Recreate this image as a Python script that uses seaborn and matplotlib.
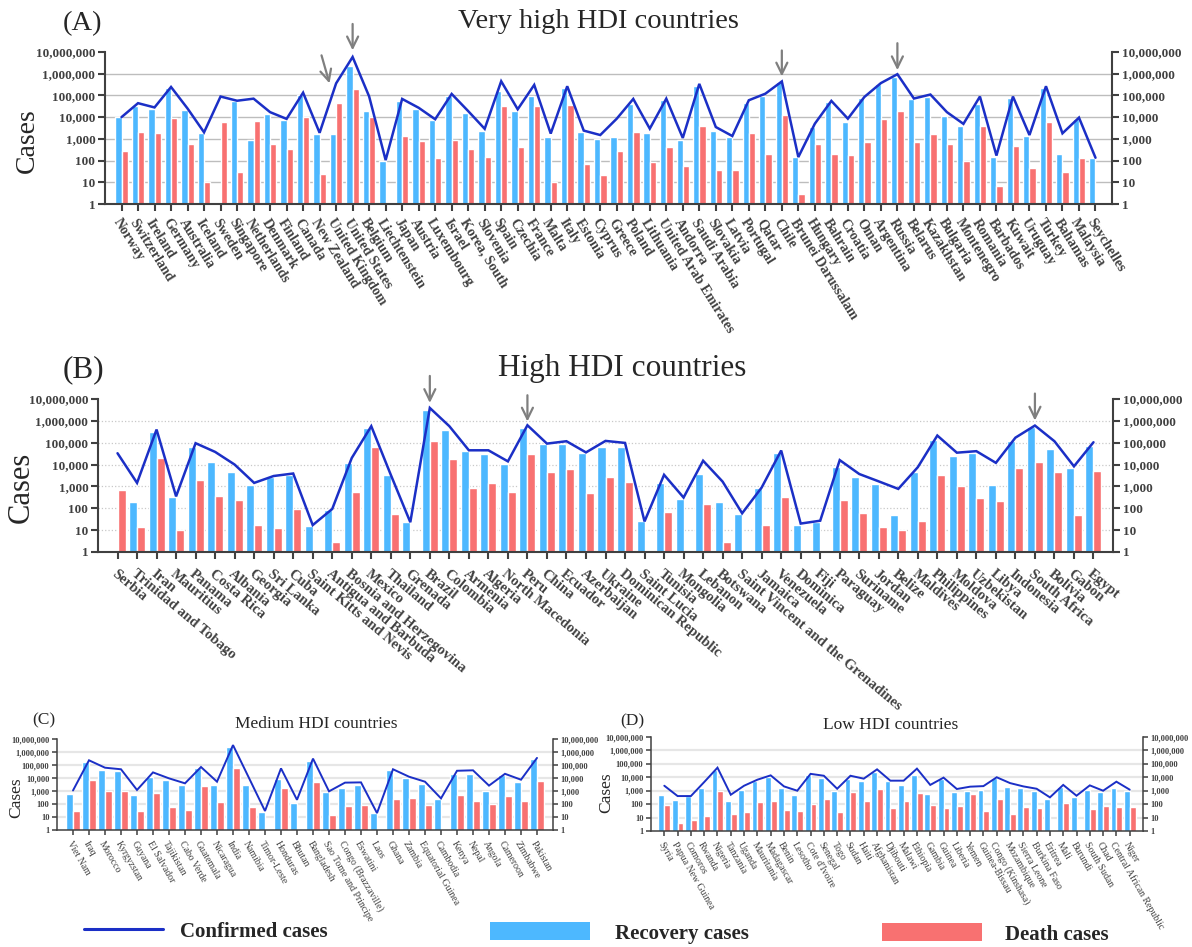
import numpy as np
import pandas as pd
import matplotlib
matplotlib.use("Agg")
import matplotlib.pyplot as plt
import seaborn as sns
from matplotlib.lines import Line2D
from matplotlib.patches import Patch
from matplotlib.ticker import FuncFormatter, NullLocator

nan = np.nan

# ─── DATA ────────────────────────────────────────────────────────────────────
VH_COUNTRIES = ["Norway", "Switzerland", "Ireland", "Germany", "Australia", "Iceland", "Sweden",
                "Singapore", "Netherlands", "Denmark", "Finland", "Canada", "New Zealand",
                "United Kingdom", "United States", "Belgium", "Liechtenstein", "Japan", "Austria",
                "Luxembourg", "Israel", "Korea, South", "Slovenia", "Spain", "Czechia", "France",
                "Malta", "Italy", "Estonia", "Cyprus", "Greece", "Poland", "Lithuania",
                "United Arab Emirates", "Andorra", "Saudi Arabia", "Slovakia", "Latvia", "Portugal",
                "Qatar", "Chile", "Brunei Darussalam", "Hungary", "Bahrain", "Croatia", "Oman",
                "Argentina", "Russia", "Belarus", "Kazakhstan", "Bulgaria", "Montenegro", "Romania",
                "Barbados", "Kuwait", "Uruguay", "Turkey", "Bahamas", "Malaysia", "Seychelles"]
VH_CONFIRMED = [10000, 44000, 28000, 245000, 25000, 2000, 89000, 57000, 71000, 17000, 8300, 134000,
                1900, 360000, 5900000, 90000, 105, 69000, 27000, 8000, 117000, 19000, 2900, 450000,
                23000, 305000, 1750, 265000, 2400, 1500, 8500, 69000, 2950, 71000, 1100, 340000,
                3500, 1350, 60000, 120000, 440000, 145, 5000, 56000, 8500, 85000, 370000, 950000,
                72000, 110000, 17000, 4900, 89000, 170, 89000, 1500, 265000, 1800, 9500, 135]
VH_RECOVERED = [9900, 31000, 23700, 215000, 21000, 1900, nan, 54000, 850, 14500, 7200, 110000,
                1600, 1600, 2200000, 18600, 100, 54000, 23000, 7200, 95000, 15000, 2200, 155000,
                18500, 95000, 1200, 215000, 2000, 960, 1270, 41000, 1800, 60000, 850, 285000,
                2200, 1200, 44000, 95000, 410000, 140, 3600, 48000, 6200, 80000, 320000, 710000,
                68000, 88000, 11000, 3800, 39000, 140, 74000, 1300, 230000, 210, 8600, 125]
VH_DEATHS = [270, 2000, 1800, 9300, 600, 10, 5800, 29, 6500, 600, 330, 9800,
             23, 44000, 190000, 9900, nan, 1300, 770, 125, 850, 330, 140, 32000,
             400, 32000, 10, 35000, 70, 21, 270, 2000, 83, 400, 55, 3800,
             36, 36, 1800, 195, 12000, 3, 600, 195, 175, 690, 8000, 18600,
             690, 1600, 600, 93, 3800, 7, 490, 44, 6200, 29, 125, nan]

H_COUNTRIES = ["Serbia", "Trinidad and Tobago", "Iran", "Mauritius", "Panama", "Costa Rica",
               "Albania", "Georgia", "Sri Lanka", "Cuba", "Saint Kitts and Nevis",
               "Antigua and Barbuda", "Bosnia and Herzegovina", "Mexico", "Thailand", "Grenada",
               "Brazil", "Colombia", "Armenia", "Algeria", "North Macedonia", "Peru", "China",
               "Ecuador", "Azerbaijan", "Ukraine", "Dominican Republic", "Saint Lucia", "Tunisia",
               "Mongolia", "Lebanon", "Botswana", "Saint Vincent and the Grenadines", "Jamaica",
               "Venezuela", "Dominica", "Fiji", "Paraguay", "Suriname", "Jordan", "Belize",
               "Maldives", "Philippines", "Moldova", "Uzbekistan", "Libya", "Indonesia",
               "South Africa", "Bolivia", "Gabon", "Egypt"]
H_CONFIRMED = [33000, 1450, 400000, 350, 95000, 38000, 10000, 1450, 3000, 3900, 17, 93, 20000,
               570000, 3400, 23, 3900000, 570000, 45000, 45000, 14000, 630000, 91000, 117000,
               36000, 121000, 98000, 25, 3400, 310, 15000, 1660, 59, 890, 44000, 20, 27, 16000,
               3700, 1700, 770, 7600, 213000, 35000, 41000, 12000, 170000, 610000, 117000, 8300,
               105000]
H_RECOVERED = [nan, 200, 325000, 340, 66000, 13700, 4800, 1200, 2800, 3300, 16, 87, 12300,
               495000, 3400, 24, 3300000, 400000, 40000, 32000, 11000, 460000, 83000, 91000,
               34000, 62000, 66000, 25, 1500, 275, 3900, 200, 57, 890, 34000, 18, 23, 8100,
               2800, 1350, 51, 4800, 140000, 26000, 34000, 1200, 125000, 530000, 54000, 7300,
               69000]
H_DEATHS = [720, 14, 21000, 10, 2050, 380, 250, 18, 12, 96, nan, 3, 580,
            66000, 57, nan, 126000, 18700, 890, 1500, 580, 29000, 4700, 6600,
            520, 2600, 1660, nan, 70, nan, 150, 3, nan, 18, 340, nan, nan, 250,
            63, 14, 10, 27, 3500, 1000, 310, 225, 7300, 13700, 4800, 51,
            5300]

M_COUNTRIES = ["Viet Nam", "Iraq", "Morocco", "Kyrgyzstan", "Guyana", "El Salvador", "Tajikistan",
               "Cabo Verde", "Guatemala", "Nicaragua", "India", "Namibia", "Timor-Leste",
               "Honduras", "Bhutan", "Bangladesh", "Sao Tome and Principe", "Congo (Brazzaville)",
               "Eswatini", "Laos", "Ghana", "Zambia", "Equatorial Guinea", "Cambodia", "Kenya",
               "Nepal", "Angola", "Cameroon", "Zimbabwe", "Pakistan"]
M_CONFIRMED = [1100, 230000, 62000, 47000, 1200, 27000, 9400, 3900, 70000, 5200, 3400000, 10000,
               29, 55000, 210, 310000, 940, 4400, 4600, 20, 47000, 12600, 5200, 270, 36000,
               39000, 2600, 21000, 7400, 350000]
M_RECOVERED = [590, 170000, 44000, 37000, 520, 12000, 7400, 3000, 58000, 3000, 2400000, 3000,
               26, 8900, 125, 200000, 890, 1800, 3000, 21, 44000, 10600, 3700, 260, 21000,
               21000, 1070, 17000, 5200, 310000]
M_DEATHS = [31, 7400, 1070, 1070, 31, 740, 62, 36, 2600, 150, 62000, 62,
            nan, 1800, nan, 4700, 15, 74, 89, nan, 260, 310, 89, nan, 520,
            180, 105, 440, 180, 6200]

L_COUNTRIES = ["Syria", "Papua New Guinea", "Comoros", "Rwanda", "Nigeria", "Tanzania", "Uganda",
               "Mauritania", "Madagascar", "Benin", "Lesotho", "Cote d'Ivoire", "Senegal", "Togo",
               "Sudan", "Haiti", "Afghanistan", "Djibouti", "Malawi", "Ethiopia", "Gambia",
               "Guinea", "Liberia", "Yemen", "Guinea-Bissau", "Congo (Kinshasa)", "Mozambique",
               "Sierra Leone", "Burkina Faso", "Eritrea", "Mali", "Burundi", "South Sudan", "Chad",
               "Central African Republic", "Niger"]
L_CONFIRMED = [2350, 400, 400, 4400, 52000, 500, 2350, 6600, 13900, 2100, 1000, 18000, 13000,
               1400, 13000, 7900, 39000, 5600, 5600, 44000, 2700, 9400, 1340, 2000, 2200, 10000,
               3700, 2100, 1400, 320, 2700, 425, 2500, 1000, 4700, 1200]
L_RECOVERED = [500, 215, 380, 1700, 37000, 180, 1200, 5600, 10500, 1700, 500, 15600, 8900,
               1000, 7400, 5600, 26000, 5400, 2800, 15000, 600, 7400, 850, 1000, 1200, 9400,
               2000, 1700, 1000, 255, 1900, 360, 1200, 850, 1700, 1000]
L_DEATHS = [92, 4.2, 6.6, 14, 1000, 19, 27, 150, 180, 39, 32, 107, 255,
            27, 850, 180, 1400, 55, 180, 720, 92, 55, 77, 600, 32, 255,
            19, 65, 55, nan, 130, nan, 46, 77, 65, 65]

# ─── STYLE ───────────────────────────────────────────────────────────────────
BLUE = "#4db8ff"
RED = "#f87171"
LINE = "#1b2fc6"
AXIS_GREY = "#404040"
ARROW_GREY = "#7f7f7f"
W, H = 1192, 947
DECADES = [1, 10, 100, 1000, 10000, 100000, 1000000, 10000000]

sns.set_style("white")
plt.rcParams["font.family"] = ["Liberation Serif", "DejaVu Serif"]


def fx(px):
    return px / W


def fy(py):
    return 1 - py / H


def draw_panel(fig, box, names, conf, rec, dead, st):
    left, top, right, bottom = box
    ax = fig.add_axes([fx(left), fy(bottom), (right - left) / W, (bottom - top) / H])
    n = len(names)
    df = pd.DataFrame({
        "country": names * 2,
        "kind": ["Recovery cases"] * n + ["Death cases"] * n,
        "cases": list(rec) + list(dead),
    })
    sns.barplot(data=df, x="country", y="cases", hue="kind", order=names,
                hue_order=["Recovery cases", "Death cases"], palette=[BLUE, RED],
                width=st["bar_width"], saturation=1, errorbar=None, log_scale=True,
                legend=False, ax=ax, zorder=2)
    ax.plot(np.arange(n), conf, color=LINE, lw=st["line_lw"], zorder=4,
            solid_joinstyle="miter")

    ax.set_yscale("log")
    ax.set_ylim(1, 1e7)
    ax.set_xlim(-1, n)
    ax.set_xlabel("")
    ax.set_ylabel("")

    for v in DECADES[1:-1]:
        ax.axhline(v, color=st["grid_color"], ls=st["grid_ls"], lw=st["grid_lw"], zorder=0)

    ax.set_yticks(DECADES)
    ax.yaxis.set_minor_locator(NullLocator())
    ax.yaxis.set_major_formatter(FuncFormatter(lambda v, _: f"{int(round(v)):,}"))
    ax.tick_params(axis="y", which="major", left=True, right=True, labelleft=True,
                   labelright=True, direction="out", length=st["tick_len"],
                   width=st["spine_lw"], color=AXIS_GREY, labelcolor=AXIS_GREY,
                   labelsize=st["ytick_size"], pad=2)
    for t in ax.yaxis.get_major_ticks():
        t.label1.set_fontweight("bold")
        t.label2.set_fontweight("bold")

    ax.set_xticks(np.arange(n))
    ax.set_xticklabels(names, rotation=st["rot"], ha="left", va="top",
                       rotation_mode="anchor", fontsize=st["xtick_size"],
                       fontweight=st["xtick_weight"], color=AXIS_GREY)
    ax.tick_params(axis="x", bottom=True, direction="out", length=st["tick_len"],
                   width=st["spine_lw"], color=AXIS_GREY, pad=st["xpad"])

    ax.spines["top"].set_visible(False)
    for s in ["left", "right", "bottom"]:
        ax.spines[s].set_color(AXIS_GREY)
        ax.spines[s].set_linewidth(st["spine_lw"])

    for name, dx, off, shrink in st.get("arrows", []):
        i = names.index(name)
        ax.annotate("", xy=(i + dx, conf[i]), xytext=off, textcoords="offset pixels",
                    arrowprops=dict(arrowstyle="->,head_length=0.45,head_width=0.22",
                                    color=ARROW_GREY, lw=1.6, shrinkA=0, shrinkB=shrink,
                                    mutation_scale=18))
    return ax


fig = plt.figure(figsize=(W / 100, H / 100), dpi=100)

big = dict(grid_color="#bdbdbd", grid_ls="-", grid_lw=1.0, line_lw=1.8, spine_lw=1.5,
           tick_len=5, ytick_size=9.5, xtick_weight="bold", xpad=4)
small = dict(grid_color="#e6e6e6", grid_ls="-", grid_lw=1.6, line_lw=1.4, spine_lw=1.1,
             tick_len=3.5, ytick_size=6, xtick_size=7, xtick_weight="normal", rot=-60, xpad=3)

style_a = dict(big, bar_width=0.76, rot=-58, xtick_size=10,
               arrows=[("United States", 0, (0, 33), 4.8),
                       ("United Kingdom", -0.4, (-8, 28), 0),
                       ("Chile", 0, (0, 31), 3.6),
                       ("Russia", 0, (0, 31), 2.9)])
style_b = dict(big, bar_width=0.82, rot=-40, xtick_size=10.5, grid_color="#c8c8c8",
               grid_ls=":", grid_lw=0.9, xpad=6,
               arrows=[("Brazil", 0, (0, 32), 3.6),
                       ("Peru", 0, (0, 30), 2.7),
                       ("South Africa", 0, (0, 32), 3.6)])
style_c = dict(small, bar_width=0.86)
style_d = dict(small, bar_width=0.88)

draw_panel(fig, (105, 52, 1112, 204), VH_COUNTRIES, VH_CONFIRMED, VH_RECOVERED, VH_DEATHS, style_a)
draw_panel(fig, (98, 399, 1113, 552), H_COUNTRIES, H_CONFIRMED, H_RECOVERED, H_DEATHS, style_b)
draw_panel(fig, (57, 739, 553, 830), M_COUNTRIES, M_CONFIRMED, M_RECOVERED, M_DEATHS, style_c)
draw_panel(fig, (651, 737, 1143, 831), L_COUNTRIES, L_CONFIRMED, L_RECOVERED, L_DEATHS, style_d)

# panel titles and y labels
fig.text(fx(63), fy(30), "(A)", fontsize=20.5, va="baseline")
fig.text(fx(598), fy(28), "Very high HDI countries", fontsize=20.5, ha="center", va="baseline")
fig.text(fx(27), fy(141), "Cases", fontsize=20, rotation=90, ha="center", va="center")

fig.text(fx(63), fy(377), "(B)", fontsize=22.5, va="baseline")
fig.text(fx(622), fy(376), "High HDI countries", fontsize=22.5, ha="center", va="baseline")
fig.text(fx(21), fy(487), "Cases", fontsize=22, rotation=90, ha="center", va="center")

fig.text(fx(32), fy(724), "(C)", fontsize=12.5, va="baseline")
fig.text(fx(316), fy(728), "Medium HDI countries", fontsize=12.5, ha="center", va="baseline")
fig.text(fx(16), fy(798), "Cases", fontsize=12.5, rotation=90, ha="center", va="center")

fig.text(fx(620), fy(725), "(D)", fontsize=12.5, va="baseline")
fig.text(fx(891), fy(729), "Low HDI countries", fontsize=12.5, ha="center", va="baseline")
fig.text(fx(606), fy(793), "Cases", fontsize=12.5, rotation=90, ha="center", va="center")

# legend
leg_font = dict(family=["Liberation Serif", "DejaVu Serif"], weight="bold", size=15)
legend_items = [
    (Line2D([], [], color=LINE, lw=2.2), "Confirmed cases", 84, 931, 3.8, 0.8),
    (Patch(facecolor=BLUE, edgecolor="none"), "Recovery cases", 490, 933, 4.8, 1.2),
    (Patch(facecolor=RED, edgecolor="none"), "Death cases", 882, 934, 4.8, 1.1),
]
for handle, label, x0, y0, hl, pad in legend_items:
    fig.legend(handles=[handle], labels=[label], loc="center left",
               bbox_to_anchor=(fx(x0), fy(y0)), frameon=False, prop=leg_font,
               handlelength=hl, handleheight=0.95, handletextpad=pad,
               borderpad=0, borderaxespad=0)

fig.savefig("out.png", dpi=100)
